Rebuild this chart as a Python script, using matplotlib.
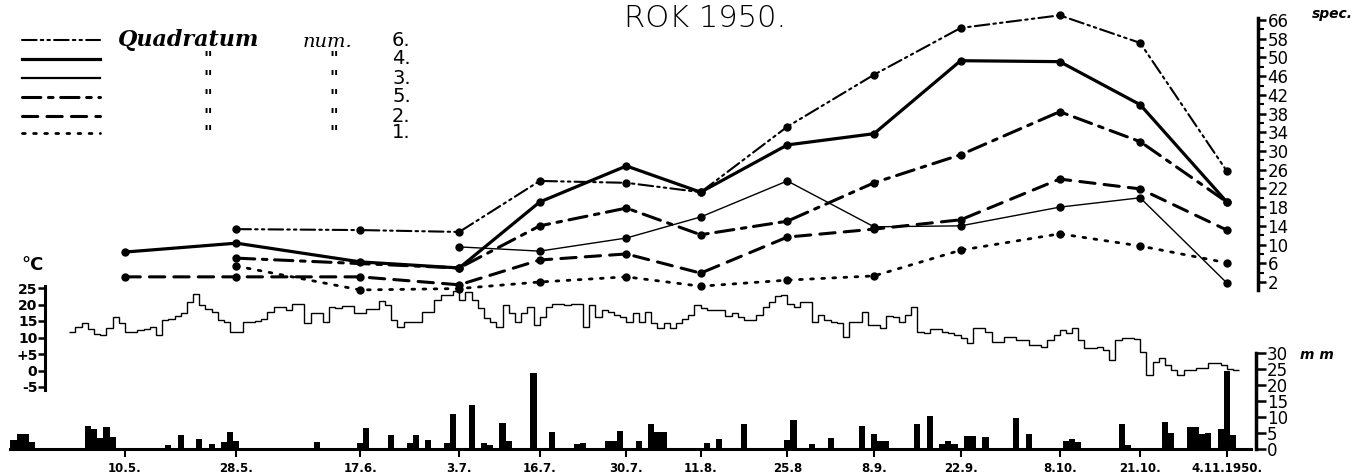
import numpy as np
import matplotlib
matplotlib.use("Agg")
import matplotlib.pyplot as plt
from matplotlib.lines import Line2D

# ---------------- data ----------------
# sampling dates (day of year 1950) and their labels
sample_days = [130, 148, 168, 184, 197, 211, 223, 237, 251, 265, 281, 294, 308]
sample_labels = ["10.5.", "28.5.", "17.6.", "3.7.", "16.7.", "30.7.", "11.8.",
                 "25.8", "8.9.", "22.9.", "8.10.", "21.10.", "4.11.1950."]

nan = np.nan
# number of species per quadrat
quad6 = [nan, 13.3, 13.1, 12.7, 23.6, 23.2, 21.2, 35.2, 46.3, 62.6, 68.0, 56.2, 25.7]
quad4 = [8.4, 10.3, 6.3, 5.0, 19.1, 26.8, 21.2, 31.3, 33.7, 49.3, 49.1, 39.9, 19.1]
quad3 = [nan, nan, nan, 9.5, 8.6, 11.4, 15.9, 23.6, 13.8, 14.0, 18.0, 20.0, 1.8]
quad5 = [nan, 7.1, nan, 5.0, 14.0, 17.8, 12.1, 15.0, 23.2, 29.2, 38.4, 32.0, 19.1]
quad2 = [3.1, 3.1, 3.1, 1.4, 6.7, 8.0, 3.9, 11.6, 13.3, 15.3, 24.0, 21.9, 13.1]
quad1 = [nan, 5.4, 0.3, 0.6, 2.0, 3.1, 1.1, 2.4, 3.3, 8.8, 12.3, 9.7, 6.1]

spec_ticks = [2, 6, 10, 14, 18, 22, 26, 30, 34, 38, 42, 46, 50, 58, 66]
spec_minor = [4, 8, 12, 16, 20, 24, 28, 32, 36, 40, 44, 48, 54, 62]

# daily mean temperature (deg C), starting 1 May (day 121)
temp_start = 121
temperature = [
    11.8, 13.3, 14.5, 12.5, 11.1, 10.8, 12.8, 16.3, 14.5, 11.8,
    11.8, 12.3, 12.5, 13.3, 10.8, 15.3, 15.5, 16.5, 17.3, 20.9,
    23.2, 19.8, 18.5, 17.8, 15.3, 14.8, 11.8, 11.8, 14.8, 14.8,
    15.1, 15.5, 17.8, 19.3, 19.3, 18.3, 20.2, 20.2, 14.5, 17.3,
    17.3, 14.8, 19.3, 18.8, 19.5, 19.5, 17.3, 17.3, 18.5, 18.5,
    21.2, 19.8, 15.3, 13.3, 14.8, 14.8,
    14.8, 17.8, 17.8, 21.4, 22.9, 22.9, 24.0, 21.4, 23.9, 21.4,
    18.8, 15.8, 14.8, 13.3, 19.8, 17.3, 14.8, 17.3, 19.3, 13.8,
    16.3, 19.3, 20.2, 20.2, 19.8, 20.2, 20.2, 13.3, 19.8, 16.3,
    18.3, 17.8, 16.8, 16.3, 14.8, 17.3, 14.8, 17.8, 14.3, 12.8,
    14.5, 12.8, 14.3, 15.5, 16.8, 19.8, 18.8, 18.3, 18.3, 18.3,
    16.5, 17.3, 16.3, 15.3, 15.3, 16.8, 19.3, 20.9, 22.6, 22.9,
    20.3, 19.3, 20.9, 20.9, 14.8, 16.8,
    15.3, 14.8, 14.3, 10.3, 14.8, 14.8, 17.8, 13.8, 13.8, 12.8,
    16.5, 16.3, 14.8, 16.8, 19.1, 11.8, 11.3, 12.5, 12.5, 11.8,
    11.3, 10.8, 9.8, 8.2, 12.8, 12.8, 11.8, 8.7, 8.7, 10.3,
    10.3, 9.2, 9.2, 7.7, 7.7, 7.2, 9.2, 10.8, 12.3, 11.3,
    12.8, 9.2, 6.7, 6.7, 7.2, 6.2, 3.2, 9.2, 9.8, 9.8,
    9.4, 5.7, -1.4, 2.7, 3.7, 1.7, 0.2, -1.4, 0.2, 0.2,
    0.7, 0.7, 2.2, 2.2, 1.7, 0.4, 0.2,
]
temp_ticks = [-5, 0, 5, 10, 15, 20, 25]
temp_ticklabels = ["-5", "0", "+5", "10", "15", "20", "25"]

# daily precipitation (mm): day of year and amount
precip_day = [112, 113, 114, 115, 124, 125, 126, 127, 128, 137, 139, 142, 144,
              146, 147, 148, 161, 168, 169, 173, 176, 177, 179, 182, 183, 186,
              188, 189, 191, 192, 196, 199, 203, 204, 208, 209, 210, 213, 215,
              216, 217, 224, 226, 230, 237, 238, 241, 244, 249, 251, 252, 253,
              258, 260, 262, 263, 264, 266, 267, 269, 274, 276, 282, 283, 284,
              291, 292, 298, 299, 302, 303, 304, 305, 307, 308, 309]
precip_mm = [2.8, 4.7, 4.7, 2.2, 7.3, 6.3, 3.4, 7.0, 3.9, 1.2, 4.4, 3.1, 1.6,
             2.3, 5.3, 2.5, 2.3, 1.8, 6.6, 4.4, 1.8, 4.4, 2.9, 2.0, 10.8, 13.8,
             1.8, 1.2, 8.2, 2.4, 23.6, 5.3, 1.6, 1.9, 2.6, 2.6, 5.5, 2.4, 7.8,
             5.3, 5.3, 1.8, 3.2, 7.8, 2.9, 9.2, 1.5, 3.4, 7.2, 4.7, 2.4, 2.4,
             7.8, 10.3, 1.5, 2.4, 1.5, 4.2, 4.2, 3.7, 9.6, 4.7, 2.4, 3.2, 2.2,
             7.7, 1.3, 8.5, 4.9, 6.8, 6.8, 4.7, 5.1, 6.1, 24.5, 4.4]
precip_ticks = [0, 5, 10, 15, 20, 25, 30]

# ---------------- layout helpers ----------------
W, H = 1352, 476
XL = (109.81, 328.22)          # day-of-year range across the full width


def fx(px):
    return px / W


def fy(py):
    return 1 - py / H


def fwd(v):
    v = np.asarray(v, float)
    return np.where(v <= 50, (v - 2) / 4.0, 12 + (v - 50) / 8.0)


def inv(p):
    p = np.asarray(p, float)
    return np.where(p <= 12, 2 + 4 * p, 50 + 8 * (p - 12))


plt.rcParams['font.family'] = ['DejaVu Sans']
fig = plt.figure(figsize=(W / 100, H / 100), dpi=100)
fig.patch.set_facecolor('white')

# ---------------- species axes ----------------
ax_s = fig.add_axes([0, fy(282), 1, (282 - 20) / H])
ax_s.set_yscale('function', functions=(fwd, inv))
ax_s.set_xlim(XL)
ax_s.set_ylim(2, 66)
ax_s.patch.set_visible(False)
for s in ['top', 'left', 'bottom']:
    ax_s.spines[s].set_visible(False)
ax_s.spines['right'].set_position(('data', 313.0))
ax_s.spines['right'].set_bounds(0.3, 66.9)
ax_s.spines['right'].set_linewidth(2.5)
ax_s.yaxis.tick_right()
ax_s.set_yticks(spec_ticks)
ax_s.set_yticklabels([str(t) for t in spec_ticks])
ax_s.set_yticks(spec_minor, minor=True)
ax_s.tick_params(axis='y', which='major', direction='out', length=6, width=1.8,
                 pad=1, labelsize=12)
ax_s.tick_params(axis='y', which='minor', direction='out', length=4, width=1.5)
ax_s.set_xticks([])

styles = [
    (quad6, dict(ls=(0, (7, 2, 1.2, 2, 1.2, 2)), lw=1.5)),
    (quad4, dict(ls='-', lw=2.3)),
    (quad3, dict(ls='-', lw=1.0)),
    (quad5, dict(ls=(0, (6, 2.5, 1.5, 2.5)), lw=2.2)),
    (quad2, dict(ls=(0, (5, 3)), lw=2.2)),
    (quad1, dict(ls=(0, (1, 3)), lw=2.0)),
]
xd = np.array(sample_days, float)
for vals, st in styles:
    v = np.array(vals, float)
    m = ~np.isnan(v)
    ax_s.plot(xd[m], v[m], color='black', marker='o', markersize=5,
              clip_on=False, dash_capstyle='round', **st)

fig.text(fx(1312), fy(14), 'spec.', fontsize=10, fontstyle='italic',
         fontweight='bold', va='center', ha='left')

# ---------------- temperature axes ----------------
ax_t = fig.add_axes([0, fy(387), 1, 99 / H])
ax_t.set_xlim(XL)
ax_t.set_ylim(-5, 25)
ax_t.patch.set_visible(False)
for s in ['top', 'right', 'bottom']:
    ax_t.spines[s].set_visible(False)
edges = np.arange(temp_start, temp_start + len(temperature) + 1)
ax_t.stairs(temperature, edges, color='black', lw=1.0, baseline=None)
ax_t.spines['left'].set_position(('data', 117.1))
ax_t.spines['left'].set_bounds(-6, 25.5)
ax_t.spines['left'].set_linewidth(2.2)
ax_t.set_yticks(temp_ticks)
ax_t.set_yticklabels(temp_ticklabels)
ax_t.tick_params(axis='y', direction='out', length=5, width=1.8, pad=0.5,
                 labelsize=10)
for lab in ax_t.get_yticklabels():
    lab.set_fontweight('bold')
ax_t.set_xticks([])
fig.text(fx(33), fy(265), '°C', fontsize=13, fontweight='bold', ha='center',
         va='center')

# ---------------- precipitation axes ----------------
ax_p = fig.add_axes([0, fy(449), 1, 96 / H])
ax_p.set_xlim(XL)
ax_p.set_ylim(0, 30)
ax_p.patch.set_visible(False)
for s in ['top', 'left']:
    ax_p.spines[s].set_visible(False)
ax_p.bar(precip_day, precip_mm, width=1.0, color='black')
ax_p.spines['bottom'].set_bounds(111.4, 311.9)
ax_p.spines['bottom'].set_linewidth(2.2)
ax_p.spines['right'].set_position(('data', 312.7))
ax_p.spines['right'].set_bounds(0, 30)
ax_p.spines['right'].set_linewidth(2.5)
ax_p.yaxis.tick_right()
ax_p.set_yticks(precip_ticks)
ax_p.set_yticklabels([str(t) for t in precip_ticks])
ax_p.tick_params(axis='y', direction='out', length=7, width=1.8, pad=1,
                 labelsize=12)
ax_p.set_xticks(sample_days)
ax_p.set_xticklabels(sample_labels)
ax_p.tick_params(axis='x', direction='out', length=6, width=1.5, pad=3,
                 labelsize=8.5)
for lab in ax_p.get_xticklabels():
    lab.set_fontweight('bold')
fig.text(fx(1300), fy(355), 'm m', fontsize=10, fontstyle='italic',
         fontweight='bold', va='center', ha='left')

# ---------------- legend (hand-drawn style) ----------------
legend_rows = [40, 59, 78, 97, 116, 133]
legend_nums = ["6.", "4.", "3.", "5.", "2.", "1."]
legend_lw = [1.5, 2.3, 1.6, 2.2, 2.2, 2.0]
for (vals, st), py, lw in zip(styles, legend_rows, legend_lw):
    fig.add_artist(Line2D([fx(22), fx(100)], [fy(py), fy(py)],
                          transform=fig.transFigure, color='black',
                          ls=st['ls'], lw=lw, dash_capstyle='round'))
fig.text(fx(118), fy(40), 'Quadratum', fontsize=16, fontstyle='italic',
         fontweight='bold', family='DejaVu Serif', va='center', ha='left')
fig.text(fx(303), fy(42), 'num.', fontsize=14, fontstyle='italic',
         family='DejaVu Serif', va='center', ha='left')
for i, (py, num) in enumerate(zip(legend_rows, legend_nums)):
    fig.text(fx(392), fy(py), num, fontsize=14, va='center', ha='left')
    if i > 0:
        fig.text(fx(208), fy(py), '"', fontsize=12, fontstyle='italic',
                 fontweight='bold', va='center', ha='center')
        fig.text(fx(334), fy(py), '"', fontsize=12, fontstyle='italic',
                 fontweight='bold', va='center', ha='center')

# ---------------- title ----------------
fig.text(fx(705), fy(27), 'ROK 1950.', fontsize=22, ha='center',
         va='baseline', fontweight='light')

fig.savefig('out.png', dpi=100, facecolor='white')
